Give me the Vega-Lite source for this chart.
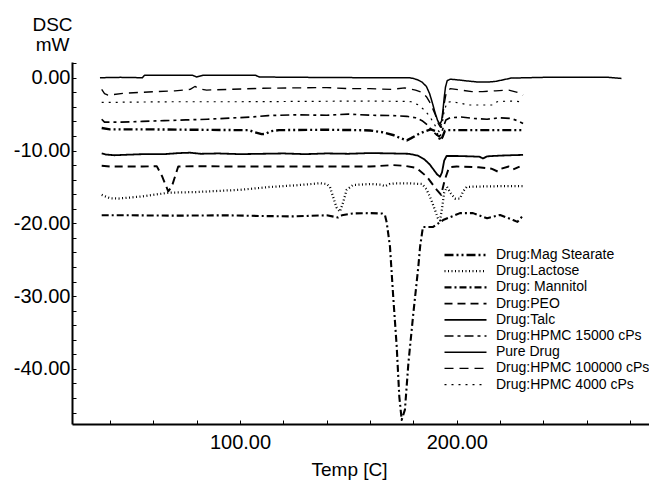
{
  "$schema": "https://vega.github.io/schema/vega-lite/v6.json",
  "autosize": "none",
  "padding": {"left": 72, "top": 62, "right": 0, "bottom": 61},
  "width": 577,
  "height": 362,
  "background": "white",
  "config": {
    "view": {"stroke": null},
    "font": "Liberation Sans",
    "axis": {"grid": false, "domainColor": "black", "domainWidth": 2, "tickColor": "black", "tickWidth": 1, "tickSize": -4, "labelColor": "black", "titleColor": "black", "labelFont": "Liberation Sans", "titleFont": "Liberation Sans", "labelFontSize": 20, "titleFontSize": 19, "titleFontWeight": "normal"}
  },
  "data": {"values": [
    {"s":"Pure Drug","t":35.4,"v":0.0},{"s":"Pure Drug","t":45,"v":0.05},{"s":"Pure Drug","t":55,"v":0.0},{"s":"Pure Drug","t":56,"v":0.35},{"s":"Pure Drug","t":78,"v":0.35},{"s":"Pure Drug","t":80,"v":0.1},{"s":"Pure Drug","t":83,"v":0.35},{"s":"Pure Drug","t":107,"v":0.35},{"s":"Pure Drug","t":109,"v":0.1},{"s":"Pure Drug","t":130,"v":0.05},{"s":"Pure Drug","t":160,"v":0.0},{"s":"Pure Drug","t":178,"v":0.0},{"s":"Pure Drug","t":180,"v":-0.1},{"s":"Pure Drug","t":182,"v":-0.3},{"s":"Pure Drug","t":184,"v":-0.6},{"s":"Pure Drug","t":186,"v":-1.2},{"s":"Pure Drug","t":187.5,"v":-2.2},{"s":"Pure Drug","t":188.8,"v":-3.5},{"s":"Pure Drug","t":190,"v":-4.8},{"s":"Pure Drug","t":191.2,"v":-5.9},{"s":"Pure Drug","t":192.3,"v":-6.4},{"s":"Pure Drug","t":193.0,"v":-5.9},{"s":"Pure Drug","t":193.6,"v":-4.6},{"s":"Pure Drug","t":194.2,"v":-2.8},{"s":"Pure Drug","t":194.8,"v":-1.3},{"s":"Pure Drug","t":195.6,"v":-0.4},{"s":"Pure Drug","t":197,"v":-0.2},{"s":"Pure Drug","t":200.6,"v":-0.3},{"s":"Pure Drug","t":205,"v":-0.45},{"s":"Pure Drug","t":210,"v":-0.6},{"s":"Pure Drug","t":214,"v":-0.6},{"s":"Pure Drug","t":218,"v":-0.5},{"s":"Pure Drug","t":222,"v":-0.25},{"s":"Pure Drug","t":225,"v":-0.05},{"s":"Pure Drug","t":240,"v":0.05},{"s":"Pure Drug","t":260,"v":0.05},{"s":"Pure Drug","t":270,"v":0.05},{"s":"Pure Drug","t":276,"v":-0.1},

    {"s":"Drug:HPMC 100000 cPs","t":36.2,"v":-1.6},{"s":"Drug:HPMC 100000 cPs","t":37.5,"v":-2.2},{"s":"Drug:HPMC 100000 cPs","t":39.1,"v":-2.4},{"s":"Drug:HPMC 100000 cPs","t":46,"v":-2.15},{"s":"Drug:HPMC 100000 cPs","t":55,"v":-2.0},{"s":"Drug:HPMC 100000 cPs","t":61.6,"v":-1.9},{"s":"Drug:HPMC 100000 cPs","t":70,"v":-1.8},{"s":"Drug:HPMC 100000 cPs","t":77,"v":-1.6},{"s":"Drug:HPMC 100000 cPs","t":79.2,"v":-1.2},{"s":"Drug:HPMC 100000 cPs","t":81,"v":-1.5},{"s":"Drug:HPMC 100000 cPs","t":84.6,"v":-1.7},{"s":"Drug:HPMC 100000 cPs","t":95,"v":-1.6},{"s":"Drug:HPMC 100000 cPs","t":110.6,"v":-1.45},{"s":"Drug:HPMC 100000 cPs","t":125,"v":-1.4},{"s":"Drug:HPMC 100000 cPs","t":140,"v":-1.35},{"s":"Drug:HPMC 100000 cPs","t":150,"v":-1.5},{"s":"Drug:HPMC 100000 cPs","t":160,"v":-1.5},{"s":"Drug:HPMC 100000 cPs","t":170,"v":-1.6},{"s":"Drug:HPMC 100000 cPs","t":176,"v":-1.4},{"s":"Drug:HPMC 100000 cPs","t":181,"v":-1.7},{"s":"Drug:HPMC 100000 cPs","t":184,"v":-2.0},{"s":"Drug:HPMC 100000 cPs","t":186,"v":-2.6},{"s":"Drug:HPMC 100000 cPs","t":188,"v":-3.6},{"s":"Drug:HPMC 100000 cPs","t":190,"v":-5.0},{"s":"Drug:HPMC 100000 cPs","t":191.5,"v":-6.3},{"s":"Drug:HPMC 100000 cPs","t":192.5,"v":-6.8},{"s":"Drug:HPMC 100000 cPs","t":193.3,"v":-5.8},{"s":"Drug:HPMC 100000 cPs","t":194.2,"v":-3.6},{"s":"Drug:HPMC 100000 cPs","t":195.2,"v":-2.0},{"s":"Drug:HPMC 100000 cPs","t":197,"v":-1.5},{"s":"Drug:HPMC 100000 cPs","t":202,"v":-1.7},{"s":"Drug:HPMC 100000 cPs","t":207,"v":-1.9},{"s":"Drug:HPMC 100000 cPs","t":212,"v":-1.9},{"s":"Drug:HPMC 100000 cPs","t":218,"v":-1.8},{"s":"Drug:HPMC 100000 cPs","t":224,"v":-1.7},{"s":"Drug:HPMC 100000 cPs","t":228,"v":-2.0},{"s":"Drug:HPMC 100000 cPs","t":230.6,"v":-2.4},

    {"s":"Drug:HPMC 4000 cPs","t":36.2,"v":-3.4},{"s":"Drug:HPMC 4000 cPs","t":50,"v":-3.35},{"s":"Drug:HPMC 4000 cPs","t":70,"v":-3.3},{"s":"Drug:HPMC 4000 cPs","t":100,"v":-3.3},{"s":"Drug:HPMC 4000 cPs","t":130,"v":-3.25},{"s":"Drug:HPMC 4000 cPs","t":160,"v":-3.2},{"s":"Drug:HPMC 4000 cPs","t":175,"v":-3.25},{"s":"Drug:HPMC 4000 cPs","t":179,"v":-3.3},{"s":"Drug:HPMC 4000 cPs","t":182,"v":-3.7},{"s":"Drug:HPMC 4000 cPs","t":185,"v":-4.4},{"s":"Drug:HPMC 4000 cPs","t":187.5,"v":-5.3},{"s":"Drug:HPMC 4000 cPs","t":189.5,"v":-6.3},{"s":"Drug:HPMC 4000 cPs","t":191.2,"v":-7.2},{"s":"Drug:HPMC 4000 cPs","t":192.2,"v":-7.5},{"s":"Drug:HPMC 4000 cPs","t":193.2,"v":-6.5},{"s":"Drug:HPMC 4000 cPs","t":194.2,"v":-4.6},{"s":"Drug:HPMC 4000 cPs","t":195.5,"v":-3.4},{"s":"Drug:HPMC 4000 cPs","t":197,"v":-3.3},{"s":"Drug:HPMC 4000 cPs","t":202,"v":-3.5},{"s":"Drug:HPMC 4000 cPs","t":205,"v":-3.75},{"s":"Drug:HPMC 4000 cPs","t":212,"v":-3.75},{"s":"Drug:HPMC 4000 cPs","t":216.8,"v":-3.75},{"s":"Drug:HPMC 4000 cPs","t":218.6,"v":-3.3},{"s":"Drug:HPMC 4000 cPs","t":224,"v":-3.2},{"s":"Drug:HPMC 4000 cPs","t":230.6,"v":-3.3},

    {"s":"Drug:HPMC 15000 cPs","t":36.2,"v":-5.7},{"s":"Drug:HPMC 15000 cPs","t":37.5,"v":-6.1},{"s":"Drug:HPMC 15000 cPs","t":45,"v":-6.1},{"s":"Drug:HPMC 15000 cPs","t":55,"v":-6.0},{"s":"Drug:HPMC 15000 cPs","t":65,"v":-5.9},{"s":"Drug:HPMC 15000 cPs","t":75,"v":-5.8},{"s":"Drug:HPMC 15000 cPs","t":85,"v":-5.7},{"s":"Drug:HPMC 15000 cPs","t":95,"v":-5.55},{"s":"Drug:HPMC 15000 cPs","t":105,"v":-5.4},{"s":"Drug:HPMC 15000 cPs","t":113,"v":-5.2},{"s":"Drug:HPMC 15000 cPs","t":125,"v":-5.1},{"s":"Drug:HPMC 15000 cPs","t":140,"v":-5.15},{"s":"Drug:HPMC 15000 cPs","t":150,"v":-5.0},{"s":"Drug:HPMC 15000 cPs","t":160,"v":-5.15},{"s":"Drug:HPMC 15000 cPs","t":170,"v":-5.2},{"s":"Drug:HPMC 15000 cPs","t":177,"v":-5.3},{"s":"Drug:HPMC 15000 cPs","t":181,"v":-5.5},{"s":"Drug:HPMC 15000 cPs","t":184,"v":-5.9},{"s":"Drug:HPMC 15000 cPs","t":186.5,"v":-6.5},{"s":"Drug:HPMC 15000 cPs","t":188.5,"v":-7.2},{"s":"Drug:HPMC 15000 cPs","t":190.5,"v":-7.8},{"s":"Drug:HPMC 15000 cPs","t":191.8,"v":-8.1},{"s":"Drug:HPMC 15000 cPs","t":192.8,"v":-7.8},{"s":"Drug:HPMC 15000 cPs","t":193.8,"v":-6.8},{"s":"Drug:HPMC 15000 cPs","t":195,"v":-5.8},{"s":"Drug:HPMC 15000 cPs","t":197,"v":-5.5},{"s":"Drug:HPMC 15000 cPs","t":202,"v":-5.4},{"s":"Drug:HPMC 15000 cPs","t":208,"v":-5.6},{"s":"Drug:HPMC 15000 cPs","t":214,"v":-5.7},{"s":"Drug:HPMC 15000 cPs","t":220,"v":-5.5},{"s":"Drug:HPMC 15000 cPs","t":225,"v":-5.6},{"s":"Drug:HPMC 15000 cPs","t":228,"v":-5.9},{"s":"Drug:HPMC 15000 cPs","t":230.6,"v":-6.3},

    {"s":"Drug:Mag Stearate","t":36.2,"v":-6.9},{"s":"Drug:Mag Stearate","t":40,"v":-7.1},{"s":"Drug:Mag Stearate","t":60,"v":-7.1},{"s":"Drug:Mag Stearate","t":80,"v":-7.15},{"s":"Drug:Mag Stearate","t":100,"v":-7.2},{"s":"Drug:Mag Stearate","t":104,"v":-7.2},{"s":"Drug:Mag Stearate","t":107,"v":-7.5},{"s":"Drug:Mag Stearate","t":110,"v":-7.75},{"s":"Drug:Mag Stearate","t":112,"v":-7.7},{"s":"Drug:Mag Stearate","t":114,"v":-7.35},{"s":"Drug:Mag Stearate","t":118,"v":-7.2},{"s":"Drug:Mag Stearate","t":140,"v":-7.15},{"s":"Drug:Mag Stearate","t":155,"v":-7.2},{"s":"Drug:Mag Stearate","t":160,"v":-7.25},{"s":"Drug:Mag Stearate","t":166,"v":-7.5},{"s":"Drug:Mag Stearate","t":171,"v":-7.9},{"s":"Drug:Mag Stearate","t":174,"v":-8.3},{"s":"Drug:Mag Stearate","t":177,"v":-8.6},{"s":"Drug:Mag Stearate","t":179,"v":-8.3},{"s":"Drug:Mag Stearate","t":182,"v":-7.8},{"s":"Drug:Mag Stearate","t":185,"v":-7.4},{"s":"Drug:Mag Stearate","t":188,"v":-7.1},{"s":"Drug:Mag Stearate","t":190,"v":-7.3},{"s":"Drug:Mag Stearate","t":191.5,"v":-8.0},{"s":"Drug:Mag Stearate","t":192.5,"v":-8.6},{"s":"Drug:Mag Stearate","t":193.5,"v":-8.1},{"s":"Drug:Mag Stearate","t":194.5,"v":-7.3},{"s":"Drug:Mag Stearate","t":196,"v":-7.2},{"s":"Drug:Mag Stearate","t":205,"v":-7.2},{"s":"Drug:Mag Stearate","t":215,"v":-7.2},{"s":"Drug:Mag Stearate","t":225,"v":-7.2},{"s":"Drug:Mag Stearate","t":230.6,"v":-7.2},

    {"s":"Drug:Talc","t":36.2,"v":-10.4},{"s":"Drug:Talc","t":38,"v":-10.55},{"s":"Drug:Talc","t":42,"v":-10.65},{"s":"Drug:Talc","t":46,"v":-10.6},{"s":"Drug:Talc","t":55,"v":-10.5},{"s":"Drug:Talc","t":65,"v":-10.5},{"s":"Drug:Talc","t":72,"v":-10.35},{"s":"Drug:Talc","t":77,"v":-10.3},{"s":"Drug:Talc","t":82,"v":-10.45},{"s":"Drug:Talc","t":90,"v":-10.4},{"s":"Drug:Talc","t":100,"v":-10.5},{"s":"Drug:Talc","t":110,"v":-10.45},{"s":"Drug:Talc","t":120,"v":-10.4},{"s":"Drug:Talc","t":130,"v":-10.5},{"s":"Drug:Talc","t":140,"v":-10.4},{"s":"Drug:Talc","t":150,"v":-10.45},{"s":"Drug:Talc","t":160,"v":-10.35},{"s":"Drug:Talc","t":170,"v":-10.4},{"s":"Drug:Talc","t":178,"v":-10.45},{"s":"Drug:Talc","t":182,"v":-10.7},{"s":"Drug:Talc","t":185,"v":-11.2},{"s":"Drug:Talc","t":187.5,"v":-11.9},{"s":"Drug:Talc","t":189.5,"v":-12.7},{"s":"Drug:Talc","t":191,"v":-13.3},{"s":"Drug:Talc","t":192.3,"v":-13.6},{"s":"Drug:Talc","t":193.2,"v":-13.0},{"s":"Drug:Talc","t":194.2,"v":-11.4},{"s":"Drug:Talc","t":195.3,"v":-10.75},{"s":"Drug:Talc","t":200,"v":-10.75},{"s":"Drug:Talc","t":206,"v":-10.8},{"s":"Drug:Talc","t":210.5,"v":-10.85},{"s":"Drug:Talc","t":212.1,"v":-11.1},{"s":"Drug:Talc","t":214,"v":-10.8},{"s":"Drug:Talc","t":220,"v":-10.7},{"s":"Drug:Talc","t":225,"v":-10.65},{"s":"Drug:Talc","t":230.6,"v":-10.6},

    {"s":"Drug:PEO","t":36.2,"v":-12.1},{"s":"Drug:PEO","t":40,"v":-12.2},{"s":"Drug:PEO","t":55,"v":-12.2},{"s":"Drug:PEO","t":61.6,"v":-12.15},{"s":"Drug:PEO","t":64,"v":-13.5},{"s":"Drug:PEO","t":66.9,"v":-15.6},{"s":"Drug:PEO","t":68.5,"v":-15.0},{"s":"Drug:PEO","t":71.5,"v":-12.2},{"s":"Drug:PEO","t":80,"v":-12.15},{"s":"Drug:PEO","t":100,"v":-12.2},{"s":"Drug:PEO","t":120,"v":-12.2},{"s":"Drug:PEO","t":140,"v":-12.2},{"s":"Drug:PEO","t":160,"v":-12.2},{"s":"Drug:PEO","t":170.5,"v":-12.0},{"s":"Drug:PEO","t":176,"v":-12.1},{"s":"Drug:PEO","t":181.5,"v":-12.4},{"s":"Drug:PEO","t":186.2,"v":-13.6},{"s":"Drug:PEO","t":190.8,"v":-15.4},{"s":"Drug:PEO","t":192.8,"v":-16.1},{"s":"Drug:PEO","t":194.5,"v":-14.0},{"s":"Drug:PEO","t":196.5,"v":-12.3},{"s":"Drug:PEO","t":200,"v":-12.2},{"s":"Drug:PEO","t":210,"v":-12.3},{"s":"Drug:PEO","t":216,"v":-12.5},{"s":"Drug:PEO","t":219,"v":-12.9},{"s":"Drug:PEO","t":220.5,"v":-12.5},{"s":"Drug:PEO","t":224,"v":-12.2},{"s":"Drug:PEO","t":226,"v":-12.6},{"s":"Drug:PEO","t":229,"v":-12.2},

    {"s":"Drug:Lactose","t":36.2,"v":-16.1},{"s":"Drug:Lactose","t":40,"v":-16.55},{"s":"Drug:Lactose","t":44,"v":-16.6},{"s":"Drug:Lactose","t":55,"v":-16.3},{"s":"Drug:Lactose","t":67,"v":-15.8},{"s":"Drug:Lactose","t":80,"v":-15.7},{"s":"Drug:Lactose","t":100,"v":-15.4},{"s":"Drug:Lactose","t":114,"v":-15.0},{"s":"Drug:Lactose","t":125,"v":-14.8},{"s":"Drug:Lactose","t":136.9,"v":-14.5},{"s":"Drug:Lactose","t":140,"v":-14.6},{"s":"Drug:Lactose","t":141.5,"v":-15.0},{"s":"Drug:Lactose","t":142.9,"v":-16.3},{"s":"Drug:Lactose","t":144.5,"v":-17.8},{"s":"Drug:Lactose","t":146.1,"v":-18.4},{"s":"Drug:Lactose","t":147.5,"v":-17.2},{"s":"Drug:Lactose","t":149.2,"v":-15.4},{"s":"Drug:Lactose","t":152.1,"v":-14.75},{"s":"Drug:Lactose","t":160,"v":-14.6},{"s":"Drug:Lactose","t":165,"v":-14.7},{"s":"Drug:Lactose","t":167,"v":-14.9},{"s":"Drug:Lactose","t":169,"v":-14.6},{"s":"Drug:Lactose","t":172,"v":-14.5},{"s":"Drug:Lactose","t":177,"v":-14.5},{"s":"Drug:Lactose","t":184,"v":-14.6},{"s":"Drug:Lactose","t":186,"v":-15.3},{"s":"Drug:Lactose","t":188,"v":-16.6},{"s":"Drug:Lactose","t":190,"v":-18.2},{"s":"Drug:Lactose","t":191.3,"v":-19.3},{"s":"Drug:Lactose","t":192.3,"v":-19.6},{"s":"Drug:Lactose","t":193.2,"v":-18.0},{"s":"Drug:Lactose","t":194.2,"v":-15.8},{"s":"Drug:Lactose","t":195.5,"v":-15.0},{"s":"Drug:Lactose","t":197.3,"v":-15.9},{"s":"Drug:Lactose","t":199.2,"v":-16.6},{"s":"Drug:Lactose","t":201.5,"v":-16.6},{"s":"Drug:Lactose","t":203,"v":-15.6},{"s":"Drug:Lactose","t":204.6,"v":-15.0},{"s":"Drug:Lactose","t":210,"v":-14.95},{"s":"Drug:Lactose","t":220,"v":-14.9},{"s":"Drug:Lactose","t":230.6,"v":-14.9},

    {"s":"Drug: Mannitol","t":36.2,"v":-18.9},{"s":"Drug: Mannitol","t":50,"v":-18.9},{"s":"Drug: Mannitol","t":70,"v":-18.95},{"s":"Drug: Mannitol","t":93.9,"v":-18.9},{"s":"Drug: Mannitol","t":110,"v":-19.0},{"s":"Drug: Mannitol","t":124.5,"v":-19.05},{"s":"Drug: Mannitol","t":140,"v":-18.9},{"s":"Drug: Mannitol","t":145.2,"v":-19.2},{"s":"Drug: Mannitol","t":147,"v":-18.9},{"s":"Drug: Mannitol","t":152,"v":-18.65},{"s":"Drug: Mannitol","t":160,"v":-18.6},{"s":"Drug: Mannitol","t":165.5,"v":-18.65},{"s":"Drug: Mannitol","t":166.9,"v":-18.9},{"s":"Drug: Mannitol","t":167.7,"v":-19.9},{"s":"Drug: Mannitol","t":169.2,"v":-23.2},{"s":"Drug: Mannitol","t":170.7,"v":-30.1},{"s":"Drug: Mannitol","t":172.3,"v":-36.9},{"s":"Drug: Mannitol","t":173.5,"v":-43.8},{"s":"Drug: Mannitol","t":174.6,"v":-47.0},{"s":"Drug: Mannitol","t":176.1,"v":-45.6},{"s":"Drug: Mannitol","t":177.7,"v":-39.2},{"s":"Drug: Mannitol","t":180,"v":-32.3},{"s":"Drug: Mannitol","t":182.3,"v":-25.9},{"s":"Drug: Mannitol","t":183.1,"v":-23.2},{"s":"Drug: Mannitol","t":184.4,"v":-20.5},{"s":"Drug: Mannitol","t":189.1,"v":-20.5},{"s":"Drug: Mannitol","t":193.7,"v":-19.55},{"s":"Drug: Mannitol","t":201.5,"v":-18.6},{"s":"Drug: Mannitol","t":207.5,"v":-18.6},{"s":"Drug: Mannitol","t":214,"v":-19.3},{"s":"Drug: Mannitol","t":220,"v":-18.85},{"s":"Drug: Mannitol","t":226,"v":-19.55},{"s":"Drug: Mannitol","t":228,"v":-19.8},{"s":"Drug: Mannitol","t":229.5,"v":-19.3},{"s":"Drug: Mannitol","t":230.6,"v":-18.9}
  ]},
  "mark": {"type": "line", "color": "black", "strokeCap": "butt", "strokeJoin": "round"},
  "encoding": {
    "x": {"field": "t", "type": "quantitative", "scale": {"domain": [22.5, 288.7], "nice": false, "zero": false},
      "axis": {"values": [40,60,80,100,120,140,160,180,200,220,240,260,280], "labelExpr": "datum.value % 100 === 0 ? format(datum.value, '.2f') : ''", "labelPadding": 12, "title": "Temp [C]", "titlePadding": 8, "titleX": 277}},
    "y": {"field": "v", "type": "quantitative", "scale": {"domain": [-47.57, 2.16], "nice": false, "zero": false},
      "axis": {"values": [-46,-44,-42,-40,-38,-36,-34,-32,-30,-28,-26,-24,-22,-20,-18,-16,-14,-12,-10,-8,-6,-4,-2,0,2], "labelExpr": "datum.value % 10 === 0 ? (datum.value < 0 ? '-' : '') + format(abs(datum.value), '.2f') : ''", "labelPadding": 6, "title": ["DSC", "mW"], "titleAngle": 0, "titleAlign": "center", "titleBaseline": "top", "titleX": -20, "titleY": -47, "titleLineHeight": 20}},
    "strokeDash": {"field": "s", "type": "nominal",
      "scale": {"domain": ["Drug:Mag Stearate","Drug:Lactose","Drug: Mannitol","Drug:PEO","Drug:Talc","Drug:HPMC 15000 cPs","Pure Drug","Drug:HPMC 100000 cPs","Drug:HPMC 4000 cPs"],
        "range": [[9,3,2,3,2,3],[1,2.5],[7,3,2,3],[8,5],[1,0],[9,4,3,4],[1,0],[9,6],[2,5]]},
      "legend": {"orient": "none", "legendX": 371, "legendY": 186, "title": null, "symbolType": "stroke", "symbolSize": 1764, "clipHeight": 14, "rowPadding": 2.2, "labelOffset": 8, "padding": 0, "labelFontSize": 14, "labelFont": "Liberation Sans", "labelColor": "black", "symbolStrokeColor": "black", "labelLimit": 300,
        "encode": {"symbols": {"update": {"strokeWidth": {"scale": "strokeWidth", "field": "value"}}}}}},
    "strokeWidth": {"field": "s", "type": "nominal",
      "scale": {"domain": ["Drug:Mag Stearate","Drug:Lactose","Drug: Mannitol","Drug:PEO","Drug:Talc","Drug:HPMC 15000 cPs","Pure Drug","Drug:HPMC 100000 cPs","Drug:HPMC 4000 cPs"],
        "range": [2.4,1.2,1.3,1.4,1.3,2.4,3.0,1.7,2.3]},
      "legend": null}
  }
}
